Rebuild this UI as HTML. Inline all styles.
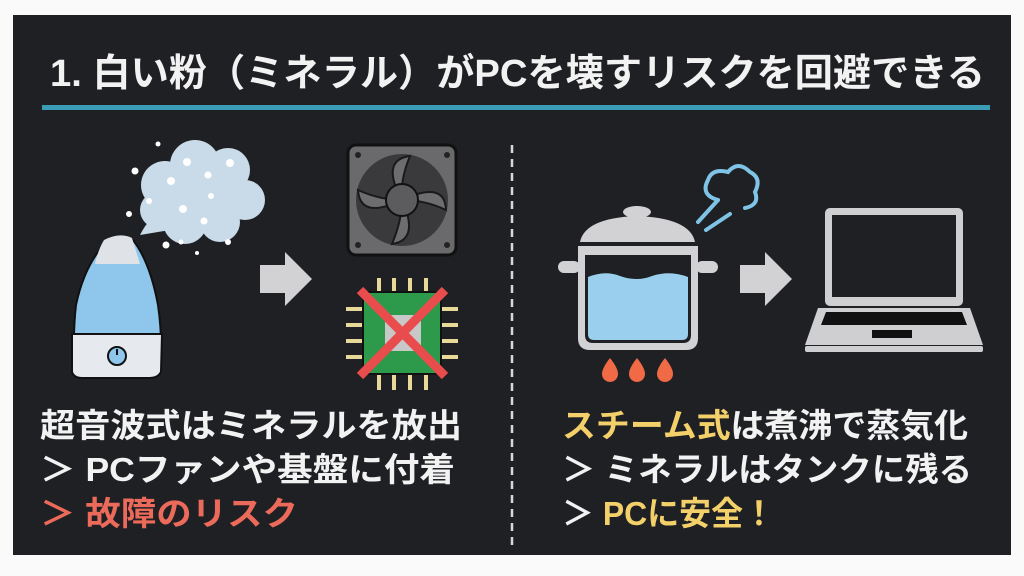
<!DOCTYPE html>
<html><head><meta charset="utf-8"><style>
html,body{margin:0;padding:0;background:#fff;}
svg{display:block;}
text{font-family:"Liberation Sans","Noto Sans CJK JP",sans-serif;font-weight:bold;}
</style></head><body>
<svg width="1024" height="576" viewBox="0 0 1024 576" xmlns="http://www.w3.org/2000/svg">
<rect x="0" y="0" width="1024" height="576" fill="#fafafa"/>
<rect x="13" y="15" width="998" height="540" fill="#1f2024"/>
<text x="50" y="86" font-size="38" fill="#f2f2f2" textLength="935" lengthAdjust="spacingAndGlyphs">1. 白い粉（ミネラル）がPCを壊すリスクを回避できる</text>
<rect x="42" y="105" width="948" height="5" fill="#3b9cb6"/>
<line x1="512" y1="145" x2="512" y2="548" stroke="#d8d8d8" stroke-width="2.5" stroke-dasharray="8,6"/>

<!-- cloud -->
<g fill="#c9dbe8">
<circle cx="165" cy="185" r="24"/><circle cx="195" cy="165" r="25"/><circle cx="228" cy="170" r="22"/>
<circle cx="245" cy="200" r="20"/><circle cx="220" cy="222" r="20"/><circle cx="185" cy="222" r="22"/>
<circle cx="158" cy="210" r="18"/><rect x="165" y="170" width="70" height="50"/>
<path d="M140 235 Q150 215 165 210 L170 230 Z"/>
</g>
<g fill="#fff"><circle cx="187" cy="162" r="4"/><circle cx="230" cy="163" r="4"/><circle cx="208" cy="175" r="3.5"/><circle cx="171" cy="181" r="4"/><circle cx="211" cy="196" r="3"/><circle cx="183" cy="209" r="4"/><circle cx="204" cy="221" r="3.5"/><circle cx="149" cy="201" r="3"/><circle cx="135" cy="171" r="3.5"/><circle cx="158" cy="144" r="2.5"/><circle cx="129" cy="214" r="3"/><circle cx="166" cy="245" r="3.5"/><circle cx="181" cy="242" r="2.5"/><circle cx="228" cy="242" r="3"/><circle cx="197" cy="253" r="2"/></g>
<!-- humidifier -->
<path d="M110 238 Q125 235 133 240 Q150 262 158 305 Q163 340 160 372 L76 372 Q72 340 76 305 Q85 262 110 238 Z" fill="#8fc7ec" stroke="#111" stroke-width="2"/>
<path d="M104 240 Q120 232 132 238 L140 264 L95 264 Q98 250 104 240Z" fill="#dfe3e8"/>
<path d="M72 334 L162 334 L161 372 Q158 378 150 378 L82 378 Q74 378 72 372 Z" fill="#e6e9ee" stroke="#111" stroke-width="2"/>
<circle cx="117" cy="356" r="9" fill="#8fc7ec" stroke="#111" stroke-width="2"/>
<line x1="117" y1="349" x2="117" y2="355" stroke="#111" stroke-width="2"/>
<!-- arrows -->
<path d="M260 265 L285 265 L285 252 L312 279 L285 306 L285 293 L260 293 Z" fill="#d2d2d4"/>
<path d="M740 265 L765 265 L765 252 L792 279 L765 306 L765 293 L740 293 Z" fill="#d2d2d4"/>
<!-- fan -->
<rect x="348" y="145" width="108" height="110" rx="8" fill="#6a6a6c" stroke="#111" stroke-width="3"/>
<circle cx="402" cy="200" r="46" fill="#3a3a3c"/>
<g fill="#6d6d70" stroke="#1a1a1a" stroke-width="2">
<path d="M402 200 Q380 160 410 156 Q400 180 402 200Z"/><path d="M402 200 Q445 180 446 210 Q425 200 402 200Z"/>
<path d="M402 200 Q420 240 392 244 Q402 220 402 200Z"/><path d="M402 200 Q360 220 358 190 Q380 200 402 200Z"/></g>
<circle cx="402" cy="200" r="16" fill="#5c5c5e" stroke="#111" stroke-width="2"/>
<g fill="#222"><circle cx="358" cy="155" r="3"/><circle cx="447" cy="155" r="3"/><circle cx="358" cy="245" r="3"/><circle cx="447" cy="245" r="3"/></g>
<!-- chip -->
<g stroke="#e8d89a" stroke-width="4">
<line x1="379" y1="278" x2="379" y2="292"/><line x1="394" y1="278" x2="394" y2="292"/><line x1="410" y1="278" x2="410" y2="292"/><line x1="426" y1="278" x2="426" y2="292"/>
<line x1="379" y1="374" x2="379" y2="390"/><line x1="394" y1="374" x2="394" y2="390"/><line x1="410" y1="374" x2="410" y2="390"/><line x1="426" y1="374" x2="426" y2="390"/>
<line x1="346" y1="309" x2="364" y2="309"/><line x1="346" y1="325" x2="364" y2="325"/><line x1="346" y1="341" x2="364" y2="341"/><line x1="346" y1="357" x2="364" y2="357"/>
<line x1="440" y1="309" x2="458" y2="309"/><line x1="440" y1="325" x2="458" y2="325"/><line x1="440" y1="341" x2="458" y2="341"/><line x1="440" y1="357" x2="458" y2="357"/></g>
<rect x="363" y="292" width="78" height="82" fill="#2c9a4a" stroke="#111" stroke-width="2"/>
<rect x="385" y="315" width="36" height="36" fill="#c8c8c8"/>
<line x1="360" y1="290" x2="445" y2="376" stroke="#e84c4c" stroke-width="9"/>
<line x1="445" y1="290" x2="360" y2="376" stroke="#e84c4c" stroke-width="9"/>

<!-- pot -->
<ellipse cx="637" cy="212" rx="14" ry="6" fill="#d2d2d4"/>
<path d="M580 242 Q585 218 637 216 Q690 218 695 242 Z" fill="#d2d2d4"/>
<path d="M578 246 L698 246 L698 338 Q698 350 686 350 L590 350 Q578 350 578 338 Z" fill="#d2d2d4"/>
<path d="M585 255 L691 255 L691 335 Q691 343 683 343 L593 343 Q585 343 585 335 Z" fill="#1f2024"/>
<path d="M588 277 Q605 270 620 276 Q637 282 652 276 Q670 270 688 277 L688 334 Q688 340 682 340 L594 340 Q588 340 588 334 Z" fill="#9ad0ee"/>
<rect x="558" y="261" width="22" height="12" rx="6" fill="#d2d2d4"/>
<rect x="696" y="261" width="22" height="12" rx="6" fill="#d2d2d4"/>
<g fill="#ef6a45"><path d="M610 358 Q618 368 618 374 A8 8 0 0 1 602 374 Q602 368 610 358Z"/><path d="M637 358 Q645 368 645 374 A8 8 0 0 1 629 374 Q629 368 637 358Z"/><path d="M665 358 Q673 368 673 374 A8 8 0 0 1 657 374 Q657 368 665 358Z"/></g>
<!-- steam -->
<path d="M718 200 Q700 195 708 180 Q712 168 728 172 Q738 160 750 172 Q762 178 755 192 Q760 205 745 208" fill="none" stroke="#7fc4e6" stroke-width="4" stroke-linecap="round"/>
<line x1="698" y1="222" x2="718" y2="200" stroke="#7fc4e6" stroke-width="4" stroke-linecap="round"/>
<line x1="706" y1="230" x2="730" y2="214" stroke="#7fc4e6" stroke-width="4" stroke-linecap="round"/>
<!-- laptop -->
<rect x="825" y="208" width="138" height="98" rx="5" fill="#cfcfd1"/>
<rect x="832" y="215" width="124" height="82" fill="#1f2024"/>
<path d="M818 308 L970 308 L983 345 L805 345 Z" fill="#cfcfd1"/>
<path d="M826 312 L962 312 L967 325 L821 325 Z" fill="#111"/>
<rect x="872" y="330" width="40" height="8" fill="#111"/>
<rect x="805" y="346" width="178" height="6" rx="2" fill="#cfcfd1"/>

<!-- texts -->
<g font-size="33">
<text x="40" y="437" fill="#f2f2f2" textLength="422" lengthAdjust="spacingAndGlyphs">超音波式はミネラルを放出</text>
<text x="40" y="481" fill="#f2f2f2" textLength="415" lengthAdjust="spacingAndGlyphs">＞ PCファンや基盤に付着</text>
<text x="40" y="525" fill="#ec6a5a" textLength="258" lengthAdjust="spacingAndGlyphs">＞ 故障のリスク</text>
<text x="562" y="437" fill="#f2f2f2" textLength="406" lengthAdjust="spacingAndGlyphs"><tspan fill="#f3d06a">スチーム式</tspan>は煮沸で蒸気化</text>
<text x="562" y="481" fill="#f2f2f2" textLength="410" lengthAdjust="spacingAndGlyphs">＞ ミネラルはタンクに残る</text>
<text x="562" y="525" fill="#f2f2f2" textLength="213" lengthAdjust="spacingAndGlyphs">＞ <tspan fill="#f3d06a">PCに安全！</tspan></text>
</g>
</svg>
</body></html>
